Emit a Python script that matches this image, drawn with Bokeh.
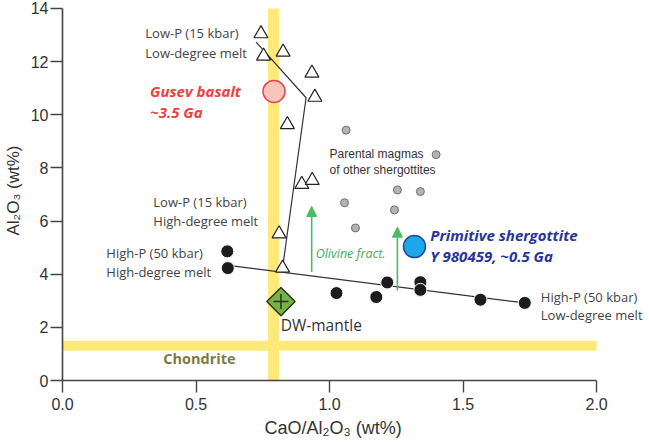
import math
from bokeh.plotting import figure
from bokeh.models import (Range1d, FixedTicker, PrintfTickFormatter, Label, Arrow,
                          NormalHead, ColumnDataSource, Title)
from bokeh.embed import file_html
from bokeh.resources import INLINE

# ---------------- data ----------------
# Low-P (15 kbar) melts (open triangles)
low_p_ratio = [0.743, 0.753, 0.826, 0.934, 0.945, 0.842, 0.896, 0.935, 0.811, 0.824]
low_p_al = [13.05, 12.21, 12.36, 11.57, 10.66, 9.63, 7.38, 7.53, 5.52, 4.23]
# High-P (50 kbar) melts (black circles)
high_p_ratio = [0.617, 0.619, 1.026, 1.175, 1.216, 1.340, 1.340, 1.565, 1.731]
high_p_al = [4.86, 4.23, 3.29, 3.14, 3.69, 3.70, 3.41, 3.04, 2.92]
# Parental magmas of other shergottites (grey dots)
parental_ratio = [1.062, 1.399, 1.254, 1.340, 1.056, 1.243, 1.097]
parental_al = [9.42, 8.50, 7.17, 7.11, 6.69, 6.42, 5.74]
# Single samples
gusev_ratio = [0.792]
gusev_al = [10.88]
y980459_ratio = [1.318]
y980459_al = [5.04]
dw_ratio = [0.818]
dw_al = [2.97]
# Chondritic reference values (yellow bands)
chondrite_ratio = 0.79
chondrite_al = 1.31
# Melting trend lines
low_p_trend_ratio = [0.725, 0.912, 0.824]
low_p_trend_al = [12.73, 10.64, 4.23]
high_p_trend_ratio = [0.621, 1.731]
high_p_trend_al = [4.33, 2.92]
# Olivine fractionation arrows
olivine_ratio = [0.933, 1.254]
olivine_from = [4.08, 3.39]
olivine_to = [6.55, 5.77]
# Axes
x_ticks = [0.0, 0.5, 1.0, 1.5, 2.0]
y_ticks = [0, 2, 4, 6, 8, 10, 12, 14]
x_title = "CaO/Al₂O₃ (wt%)"
y_title = "Al₂O₃ (wt%)"

# ---------------- figure ----------------
p = figure(width=649, height=444,
           x_range=Range1d(0, 2.198), y_range=Range1d(0, 14.3),
           output_backend="svg", toolbar_location=None,
           min_border_left=60, min_border_right=0, min_border_top=0,
           min_border_bottom=64)
p.outline_line_color = None
p.grid.visible = False
p.background_fill_color = "white"
p.border_fill_color = "white"

p.xaxis.bounds = (x_ticks[0], x_ticks[-1])
p.yaxis.bounds = (y_ticks[0], y_ticks[-1])
p.xaxis.ticker = FixedTicker(ticks=x_ticks)
p.yaxis.ticker = FixedTicker(ticks=y_ticks)
p.xaxis.formatter = PrintfTickFormatter(format="%.1f")
p.yaxis.formatter = PrintfTickFormatter(format="%d")
for ax in p.axis:
    ax.axis_line_color = "#444444"
    ax.axis_line_width = 1.6
    ax.major_tick_line_color = "#444444"
    ax.major_tick_line_width = 1.4
    ax.major_tick_out = 12
    ax.major_tick_in = 0
    ax.minor_tick_line_color = None
    ax.major_label_text_font = "Liberation Sans"
    ax.major_label_text_font_size = "16px"
    ax.major_label_text_color = "#333333"
    ax.axis_label_text_font = "Liberation Sans"
    ax.axis_label_text_font_size = "17px"
    ax.axis_label_text_font_style = "normal"
    ax.axis_label_text_color = "#333333"
p.yaxis.axis_label = y_title
p.xaxis.major_label_standoff = 5
p.yaxis.major_label_standoff = 2
p.yaxis.axis_label_standoff = 5

# x-axis title centred under the bounded axis (0..2), not under the whole frame
p.add_layout(Title(text=x_title, align="left", offset=202, standoff=7,
                   text_font="Liberation Sans", text_font_size="18px",
                   text_font_style="normal", text_color="#333333"), "below")

yellow = "#fce97a"
# chondrite bands
p.segment(x0=[chondrite_ratio], y0=[y_ticks[0]], x1=[chondrite_ratio], y1=[y_ticks[-1]],
          line_color=yellow, line_width=11)
p.segment(x0=[x_ticks[0]], y0=[chondrite_al], x1=[x_ticks[-1]], y1=[chondrite_al],
          line_color=yellow, line_width=10)

# trend lines
p.line(low_p_trend_ratio, low_p_trend_al, line_color="#333333", line_width=1.2)
p.line(high_p_trend_ratio, high_p_trend_al, line_color="#333333", line_width=1.2)

# olivine arrows
green = "#4dbb63"
arr_src = ColumnDataSource(dict(x0=olivine_ratio, y0=olivine_from,
                                x1=olivine_ratio, y1=olivine_to))
p.add_layout(Arrow(source=arr_src, x_start="x0", y_start="y0", x_end="x1", y_end="y1",
                   line_color=green, line_width=1.6,
                   end=NormalHead(size=10, fill_color=green, line_color=green)))

# markers
p.scatter(parental_ratio, parental_al, marker="circle", size=8,
          fill_color="#b3b3b3", line_color="#707070", line_width=1)
p.scatter(low_p_ratio, low_p_al, marker="triangle", size=14,
          fill_color="white", line_color="#222222", line_width=1.2)
p.scatter(high_p_ratio, high_p_al, marker="circle", size=13,
          fill_color="#1c1c1c", line_color="white", line_width=1)
p.scatter(gusev_ratio, gusev_al, marker="circle", size=22,
          fill_color="#f9c4bc", line_color="#e5484d", line_width=1.5)
p.scatter(y980459_ratio, y980459_al, marker="circle", size=22,
          fill_color="#1da7ea", line_color="#1d4f9c", line_width=1.5)
p.scatter(dw_ratio, dw_al, marker="square", size=20, angle=math.pi / 4,
          fill_color="#76b346", line_color="#2b3320", line_width=1.5)
p.scatter(dw_ratio, dw_al, marker="cross", size=15,
          line_color="#2b3320", line_width=1.5)


def lab(x, y, text, size="13px", color="#444444", style="normal", font="Open Sans"):
    p.add_layout(Label(x=x, y=y, text=text, text_font=font, text_font_size=size,
                       text_color=color, text_font_style=style,
                       text_baseline="middle", text_align="left"))


lab(0.310, 13.06, "Low-P (15 kbar)")
lab(0.310, 12.34, "Low-degree melt")
lab(0.328, 10.88, "Gusev basalt", size="15px", color="#ee4040", style="bold italic")
lab(0.328, 10.09, "~3.5 Ga", size="15px", color="#ee4040", style="bold italic")
lab(0.340, 6.70, "Low-P (15 kbar)")
lab(0.340, 6.02, "High-degree melt")
lab(0.164, 4.78, "High-P (50 kbar)")
lab(0.164, 4.10, "High-degree melt")
lab(0.817, 2.07, "DW-mantle", size="15.5px", color="#333333")
lab(0.377, 0.83, "Chondrite", size="14.5px", color="#7e7c3c", style="bold")
lab(1.000, 8.51, "Parental magmas", size="12px", color="#333333", font="Liberation Sans")
lab(1.000, 7.94, "of other shergottites", size="12px", color="#333333", font="Liberation Sans")
lab(0.948, 4.78, "Olivine fract.", size="12.5px", color="#3fae5a", style="italic")
lab(1.377, 5.49, "Primitive shergottite", size="15px", color="#27349a", style="bold italic")
lab(1.377, 4.70, "Y 980459, ~0.5 Ga", size="15px", color="#27349a", style="bold italic")
lab(1.791, 3.16, "High-P (50 kbar)")
lab(1.791, 2.48, "Low-degree melt")

open("out.html", "w").write(file_html(p, INLINE))
